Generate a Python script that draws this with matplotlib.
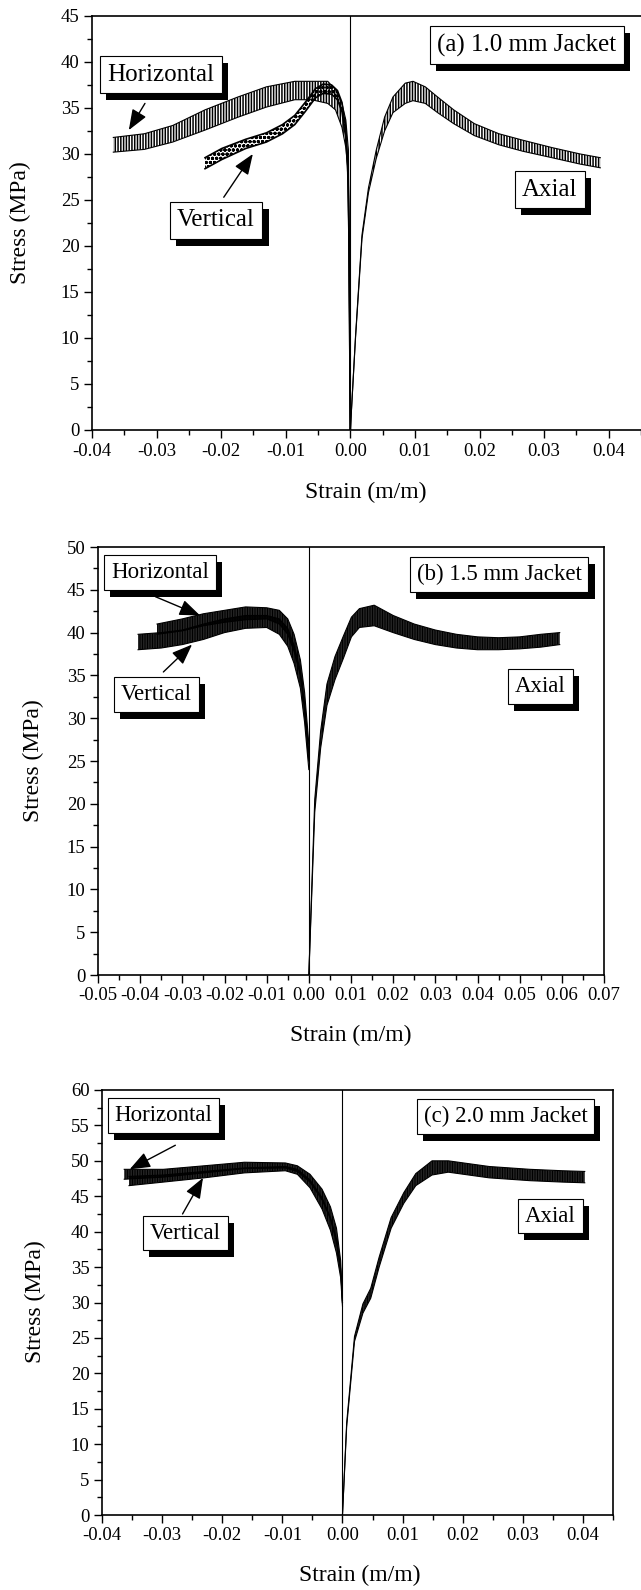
import matplotlib
matplotlib.use("Agg")
import matplotlib.pyplot as plt
import matplotlib.patheffects as pe
from matplotlib.ticker import MultipleLocator

plt.rcParams["font.family"] = ["Liberation Serif", "DejaVu Serif"]
plt.rcParams["axes.unicode_minus"] = False
plt.rcParams["hatch.linewidth"] = 1.1

# ---- panel (a) 1.0 mm jacket: band edges
a_hor_x = [-0.0367, -0.0319, -0.0275, -0.0225, -0.0174, -0.0130, -0.0086, -0.0060, -0.0035, -0.0023, -0.0013, -0.0007, -0.0003, 0.0]
a_hor_hi = [31.8, 32.2, 33.1, 34.8, 36.2, 37.3, 37.9, 37.9, 37.9, 37.0, 35.5, 33.7, 30.4, 0.0]
a_hor_lo = [30.2, 30.5, 31.3, 32.6, 34.0, 35.1, 35.9, 35.9, 35.5, 34.8, 32.9, 30.7, 27.8, 0.0]

a_ver_x = [-0.0225, -0.0199, -0.0162, -0.0130, -0.0105, -0.0086, -0.0070, -0.0054, -0.0042, -0.0029, -0.0020, -0.0013, -0.0007, -0.0004, -0.0002, 0.0]
a_ver_hi = [29.6, 30.6, 31.6, 32.3, 33.2, 34.2, 35.6, 37.1, 37.6, 37.5, 36.9, 35.6, 32.7, 29.0, 21.5, 0.0]
a_ver_lo = [28.4, 29.4, 30.6, 31.3, 32.2, 33.2, 34.6, 36.1, 36.6, 36.5, 35.9, 34.6, 31.7, 28.0, 20.5, 0.0]

a_ax_x = [0.0, 0.0008, 0.0018, 0.0028, 0.0040, 0.0053, 0.0066, 0.0085, 0.0097, 0.0116, 0.0135, 0.0160, 0.0192, 0.0230, 0.0267, 0.0312, 0.0356, 0.0387]
a_ax_hi = [0.0, 10.2, 21.2, 26.3, 30.4, 34.0, 36.2, 37.7, 37.9, 37.3, 36.2, 34.8, 33.3, 32.2, 31.5, 30.7, 30.0, 29.6]
a_ax_lo = [0.0, 10.0, 20.8, 25.8, 29.5, 32.5, 34.5, 35.5, 35.8, 35.5, 34.5, 33.3, 32.0, 31.0, 30.3, 29.6, 28.9, 28.5]

# ---- panel (b) 1.5 mm jacket
b_hor_x = [-0.036, -0.030, -0.025, -0.020, -0.015, -0.010, -0.007, -0.005, -0.0035, -0.002, -0.001, 0.0]
b_hor_hi = [41.0, 41.6, 42.2, 42.6, 43.0, 42.9, 42.6, 41.6, 39.8, 36.8, 33.0, 27.0]
b_hor_lo = [39.8, 40.2, 40.8, 41.2, 41.5, 41.6, 41.0, 39.8, 37.8, 35.0, 31.0, 25.0]

b_ver_x = [-0.0405, -0.035, -0.030, -0.025, -0.020, -0.015, -0.010, -0.007, -0.005, -0.0035, -0.002, -0.001, 0.0]
b_ver_hi = [39.8, 40.0, 40.3, 41.0, 41.6, 42.0, 42.0, 41.6, 40.5, 38.5, 35.5, 31.5, 26.0]
b_ver_lo = [38.0, 38.2, 38.6, 39.2, 40.0, 40.5, 40.6, 39.8, 38.4, 36.4, 33.5, 29.5, 24.0]

b_ax_x = [0.0, 0.0014, 0.0028, 0.0043, 0.0062, 0.0082, 0.0101, 0.0120, 0.0155, 0.0200, 0.0250, 0.0300, 0.0350, 0.0400, 0.0450, 0.0500, 0.0550, 0.0595]
b_ax_hi = [0.0, 20.5, 28.5, 34.0, 37.2, 39.6, 41.8, 42.8, 43.2, 42.0, 41.0, 40.3, 39.8, 39.5, 39.4, 39.5, 39.8, 40.0]
b_ax_lo = [0.0, 19.0, 26.5, 31.5, 34.5, 37.0, 39.5, 40.6, 40.8, 40.0, 39.2, 38.6, 38.2, 38.0, 38.0, 38.1, 38.3, 38.6]

# ---- panel (c) 2.0 mm jacket
c_hor_x = [-0.0363, -0.0298, -0.0230, -0.0163, -0.0095, -0.0075, -0.0054, -0.0034, -0.0020, -0.0010, -0.0003, 0.0]
c_hor_hi = [48.8, 48.8, 49.3, 49.8, 49.7, 49.3, 48.1, 46.0, 43.5, 40.5, 35.9, 30.3]
c_hor_lo = [47.4, 47.7, 48.3, 48.9, 49.0, 48.5, 47.0, 44.5, 41.8, 38.5, 34.5, 30.0]

c_ver_x = [-0.0355, -0.0298, -0.0230, -0.0163, -0.0095, -0.0075, -0.0054, -0.0034, -0.0020, -0.0010, -0.0003, 0.0]
c_ver_hi = [47.8, 48.0, 48.5, 49.0, 49.2, 48.8, 47.3, 44.8, 42.0, 39.0, 34.8, 30.0]
c_ver_lo = [46.5, 47.0, 47.6, 48.3, 48.6, 48.1, 46.2, 43.2, 40.2, 37.0, 33.5, 29.5]

c_ax_x = [0.0, 0.0007, 0.0020, 0.0034, 0.0047, 0.0061, 0.0081, 0.0102, 0.0122, 0.0149, 0.0176, 0.0210, 0.0244, 0.0278, 0.0312, 0.0366, 0.0403]
c_ax_hi = [0.0, 13.0, 25.2, 29.8, 32.0, 36.4, 42.0, 45.5, 48.2, 50.0, 50.0, 49.6, 49.2, 49.0, 48.8, 48.6, 48.5]
c_ax_lo = [0.0, 12.5, 24.5, 28.5, 30.6, 35.0, 40.5, 44.0, 46.5, 48.0, 48.4, 48.0, 47.6, 47.4, 47.2, 47.0, 46.9]

# axis ticks and panel titles
a_xticks = [-0.04, -0.03, -0.02, -0.01, 0.00, 0.01, 0.02, 0.03, 0.04]
b_xticks = [-0.05, -0.04, -0.03, -0.02, -0.01, 0.00, 0.01, 0.02, 0.03, 0.04, 0.05, 0.06, 0.07]
c_xticks = [-0.04, -0.03, -0.02, -0.01, 0.00, 0.01, 0.02, 0.03, 0.04]
a_title = "(a) 1.0 mm Jacket"
b_title = "(b) 1.5 mm Jacket"
c_title = "(c) 2.0 mm Jacket"

W, H = 641, 1590
fig = plt.figure(figsize=(W / 100, H / 100), dpi=100)


def add_ax(left, right, top, bottom):
    return fig.add_axes([left / W, 1 - bottom / H, (right - left) / W, (bottom - top) / H])


def band(ax, x, lo, hi, hatch, lw=0.8):
    ax.fill_between(x, lo, hi, facecolor="none", edgecolor="black", hatch=hatch, linewidth=0)
    ax.plot(x, hi, color="black", lw=lw)
    ax.plot(x, lo, color="black", lw=lw)


def box(ax, x, y, text, size):
    t = ax.text(x, y, text, ha="center", va="center", fontsize=size, zorder=6,
                bbox=dict(boxstyle="square,pad=0.3", fc="white", ec="black", lw=0.8))
    t.get_bbox_patch().set_path_effects(
        [pe.withSimplePatchShadow(offset=(4.5, -5), shadow_rgbFace="black", alpha=1.0)])


def arrow(ax, start, tip):
    ax.annotate("", xy=tip, xytext=start, zorder=6,
                arrowprops=dict(arrowstyle="-|>,head_length=0.9,head_width=0.35",
                                color="black", lw=1.0, mutation_scale=14, shrinkA=0, shrinkB=0))


def style(ax, xticks, xlim, ylim, ymajor):
    ax.set_xlim(*xlim)
    ax.set_ylim(*ylim)
    ax.set_xticks(xticks)
    ax.set_xticklabels([f"{v:.2f}" for v in xticks])
    ax.xaxis.set_minor_locator(MultipleLocator(0.005))
    ax.yaxis.set_major_locator(MultipleLocator(ymajor))
    ax.yaxis.set_minor_locator(MultipleLocator(ymajor / 2))
    ax.tick_params(which="major", direction="out", length=6, width=1, labelsize=13.5, pad=3)
    ax.tick_params(which="minor", direction="out", length=3.5, width=1)
    for s in ax.spines.values():
        s.set_linewidth(1.2)
    ax.axvline(0, color="black", lw=0.8)


# panel (a)
ax = add_ax(92, 641, 16, 430)
style(ax, a_xticks, (-0.04, 0.045), (0, 45), 5)
ax.spines["right"].set_visible(False)
band(ax, a_hor_x, a_hor_lo, a_hor_hi, "||||||")
band(ax, a_ver_x, a_ver_lo, a_ver_hi, "oooo", lw=1.2)
band(ax, a_ax_x, a_ax_lo, a_ax_hi, "||||||")
box(ax, 0.0273, 41.8, a_title, 18)
box(ax, -0.0293, 38.6, "Horizontal", 18)
box(ax, -0.0208, 22.8, "Vertical", 18)
box(ax, 0.0309, 26.1, "Axial", 18)
arrow(ax, (-0.0318, 35.5), (-0.0343, 32.6))
arrow(ax, (-0.0196, 25.3), (-0.0151, 30.0))
fig.text(366 / W, 1 - 492 / H, "Strain (m/m)", ha="center", va="center", fontsize=17)
fig.text(20 / W, 1 - 223 / H, "Stress (MPa)", ha="center", va="center", fontsize=17, rotation=90)

# panel (b)
ax = add_ax(98, 604, 547, 975)
style(ax, b_xticks, (-0.05, 0.07), (0, 50), 5)
band(ax, b_ver_x, b_ver_lo, b_ver_hi, "||||||||||")
band(ax, b_hor_x, b_hor_lo, b_hor_hi, "||||||||||")
band(ax, b_ax_x, b_ax_lo, b_ax_hi, "||||||||||")
box(ax, 0.0451, 46.8, b_title, 16.5)
box(ax, -0.0353, 47.0, "Horizontal", 16.5)
box(ax, -0.0362, 32.8, "Vertical", 16.5)
box(ax, 0.0549, 33.7, "Axial", 16.5)
arrow(ax, (-0.0364, 44.2), (-0.0258, 42.0))
arrow(ax, (-0.0345, 35.4), (-0.0277, 38.6))
fig.text(351 / W, 1 - 1035 / H, "Strain (m/m)", ha="center", va="center", fontsize=17)
fig.text(33 / W, 1 - 761 / H, "Stress (MPa)", ha="center", va="center", fontsize=17, rotation=90)

# panel (c)
ax = add_ax(102, 613, 1090, 1515)
style(ax, c_xticks, (-0.04, 0.045), (0, 60), 5)
band(ax, c_ver_x, c_ver_lo, c_ver_hi, "||||||||||")
band(ax, c_hor_x, c_hor_lo, c_hor_hi, "||||||||||")
band(ax, c_ax_x, c_ax_lo, c_ax_hi, "||||||||||")
box(ax, 0.0271, 56.2, c_title, 16.5)
box(ax, -0.0298, 56.4, "Horizontal", 16.5)
box(ax, -0.0261, 39.8, "Vertical", 16.5)
box(ax, 0.0346, 42.2, "Axial", 16.5)
arrow(ax, (-0.0278, 52.2), (-0.0354, 48.8))
arrow(ax, (-0.0266, 42.5), (-0.0232, 47.6))
fig.text(360 / W, 1 - 1575 / H, "Strain (m/m)", ha="center", va="center", fontsize=17)
fig.text(35 / W, 1 - 1302 / H, "Stress (MPa)", ha="center", va="center", fontsize=17, rotation=90)

fig.savefig("out.png", dpi=100)
